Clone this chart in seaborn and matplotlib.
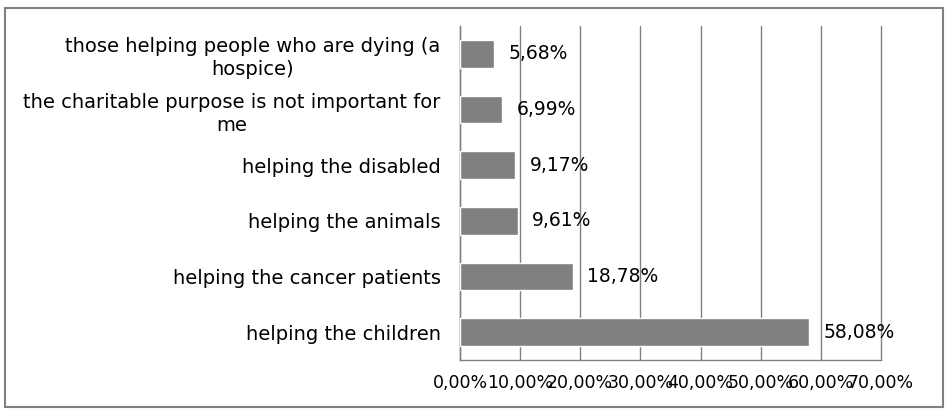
import matplotlib.pyplot as plt
import pandas as pd
import seaborn as sns
from matplotlib.patches import Rectangle

categorias = [
    'those helping people who are dying (a\nhospice)',
    'the charitable purpose is not important for\nme',
    'helping the disabled',
    'helping the animals',
    'helping the cancer patients',
    'helping the children',
]
valores = [5.68, 6.99, 9.17, 9.61, 18.78, 58.08]
ticks_x = [0, 10, 20, 30, 40, 50, 60, 70]

df = pd.DataFrame({'categoria': categorias, 'valor': valores})

sns.set_style('white')
plt.rcParams['font.family'] = ['Liberation Sans Narrow', 'DejaVu Sans']
plt.rcParams['text.color'] = 'black'
plt.rcParams['xtick.color'] = 'black'
plt.rcParams['ytick.color'] = 'black'

fig = plt.figure(figsize=(9.48, 4.09), dpi=100)
ax = fig.add_axes([460 / 948, 1 - 360 / 409, 421 / 948, 334 / 409])

sns.barplot(data=df, x='valor', y='categoria', color='#808080', orient='h',
            width=0.5, saturation=1, ax=ax, zorder=3)

ax.set_xlim(0, 70)
ax.set_ylim(len(categorias) - 0.5, -0.5)
ax.set_xticks(ticks_x)
ax.set_xticklabels([f'{t:.2f}%'.replace('.', ',') for t in ticks_x], fontsize=12.5)
ax.set_yticks(range(len(categorias)))
ax.set_yticklabels(categorias, fontsize=14, multialignment='center', linespacing=1.3)
ax.set_yticks([i - 0.5 for i in range(len(categorias) + 1)], minor=True)
ax.tick_params(axis='y', which='major', length=0, pad=14)
ax.tick_params(axis='y', which='minor', length=5, color='#808080', direction='out')
ax.tick_params(axis='x', length=5, color='#808080', labelcolor='black', direction='out', pad=5)
ax.grid(axis='x', color='#808080', linewidth=1, zorder=0)
for g in ax.get_xgridlines():
    g.set_clip_on(False)
ax.set_xlabel('')
ax.set_ylabel('')
for lado in ['top', 'right']:
    ax.spines[lado].set_visible(False)
for lado in ['left', 'bottom']:
    ax.spines[lado].set_color('#808080')
    ax.spines[lado].set_linewidth(1)

for i, v in enumerate(valores):
    ax.text(v + 2.4, i, f'{v:.2f}%'.replace('.', ','), va='center', ha='left', fontsize=13.5,
            color='black', zorder=4)

# borda do gráfico
fig.patches.append(Rectangle((5 / 948, 2 / 409), 938 / 948, 399 / 409, transform=fig.transFigure,
                             fill=False, edgecolor='#808080', linewidth=1.5))

plt.savefig('out.png', dpi=100)
plt.close()
